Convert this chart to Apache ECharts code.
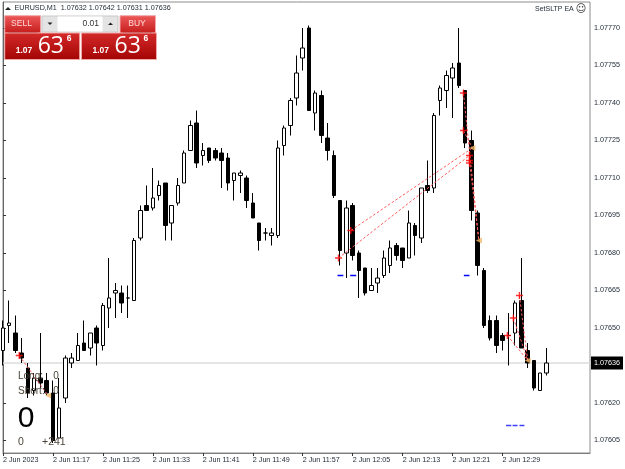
<!DOCTYPE html>
<html>
<head>
<meta charset="utf-8">
<title>EURUSD,M1</title>
<style>
  html, body { margin: 0; padding: 0; background: #fff; }
  #main { width: 625px; height: 469px; }
</style>
<script src="https://cdn.jsdelivr.net/npm/echarts@6/dist/echarts.min.js"></script>
</head>
<body>
<div id="main"></div>
<script>
// one minute candles, 2 Jun 2023 11:09 to 12:36
var opens = [1.07641,1.07651,1.07648,1.07640,1.07634,1.07625,1.07630,1.07629,1.07624,1.07606,
  1.07622,1.07636,1.07637,1.07644,1.07642,1.07650,1.07643,1.07658,1.07664,1.07664,
  1.07662,1.07661,1.07686,1.07699,1.07698,1.07703,1.07708,1.07692,1.07700,1.07708,
  1.07721,1.07732,1.07719,1.07722,1.07721,1.07720,1.07718,1.07709,1.07711,1.07710,
  1.07700,1.07692,1.07688,1.07687,1.07687,1.07723,1.07731,1.07742,1.07758,1.07770,
  1.07736,1.07743,1.07726,1.07719,1.07701,1.07680,1.07699,1.07680,1.07674,1.07665,
  1.07668,1.07671,1.07675,1.07683,1.07682,1.07678,1.07691,1.07686,1.07707,1.07706,
  1.07741,1.07745,1.07750,1.07756,1.07745,1.07725,1.07696,1.07673,1.07653,1.07653,
  1.07647,1.07647,1.07648,1.07661,1.07641,1.07637,1.07625,1.07632];
var closes = [1.07650,1.07652,1.07641,1.07638,1.07624,1.07630,1.07628,1.07624,1.07605,1.07618,
  1.07638,1.07638,1.07643,1.07641,1.07648,1.07644,1.07659,1.07662,1.07665,1.07660,
  1.07662,1.07685,1.07697,1.07697,1.07702,1.07707,1.07691,1.07699,1.07707,1.07720,
  1.07731,1.07716,1.07721,1.07717,1.07718,1.07717,1.07708,1.07712,1.07712,1.07701,
  1.07694,1.07685,1.07688,1.07688,1.07722,1.07730,1.07741,1.07752,1.07762,1.07737,
  1.07744,1.07727,1.07721,1.07703,1.07681,1.07698,1.07679,1.07673,1.07664,1.07667,
  1.07670,1.07678,1.07682,1.07679,1.07677,1.07692,1.07687,1.07706,1.07705,1.07735,
  1.07746,1.07751,1.07754,1.07747,1.07724,1.07697,1.07675,1.07651,1.07646,1.07643,
  1.07645,1.07647,1.07660,1.07642,1.07636,1.07626,1.07632,1.07636];
var lows = [1.07635,1.07644,1.07640,1.07636,1.07622,1.07623,1.07626,1.07623,1.07604,1.07606,
  1.07620,1.07634,1.07637,1.07641,1.07639,1.07635,1.07641,1.07650,1.07654,1.07656,
  1.07654,1.07661,1.07685,1.07697,1.07697,1.07701,1.07685,1.07685,1.07699,1.07708,
  1.07721,1.07714,1.07715,1.07716,1.07717,1.07706,1.07705,1.07701,1.07704,1.07698,
  1.07694,1.07681,1.07685,1.07683,1.07686,1.07719,1.07727,1.07739,1.07753,1.07737,
  1.07729,1.07724,1.07717,1.07702,1.07675,1.07670,1.07677,1.07662,1.07663,1.07665,
  1.07664,1.07670,1.07672,1.07677,1.07674,1.07678,1.07679,1.07684,1.07704,1.07704,
  1.07735,1.07738,1.07734,1.07746,1.07722,1.07693,1.07671,1.07650,1.07645,1.07640,
  1.07641,1.07635,1.07643,1.07642,1.07634,1.07625,1.07625,1.07631];
var highs = [1.07653,1.07661,1.07655,1.07646,1.07636,1.07632,1.07648,1.07632,1.07629,1.07630,
  1.07639,1.07640,1.07648,1.07653,1.07648,1.07651,1.07660,1.07678,1.07668,1.07667,
  1.07667,1.07686,1.07699,1.07707,1.07714,1.07709,1.07708,1.07699,1.07710,1.07721,
  1.07733,1.07737,1.07724,1.07722,1.07722,1.07722,1.07720,1.07712,1.07713,1.07711,
  1.07704,1.07692,1.07690,1.07690,1.07725,1.07731,1.07742,1.07759,1.07770,1.07771,
  1.07745,1.07745,1.07732,1.07721,1.07701,1.07701,1.07700,1.07681,1.07674,1.07674,
  1.07674,1.07681,1.07685,1.07684,1.07682,1.07697,1.07692,1.07706,1.07717,1.07736,
  1.07747,1.07753,1.07756,1.07770,1.07745,1.07729,1.07697,1.07674,1.07655,1.07655,
  1.07648,1.07656,1.07661,1.07678,1.07644,1.07637,1.07632,1.07642];

// x tick labels, one every eight minutes
var timeLabels = ["2 Jun 2023","2 Jun 11:17","2 Jun 11:25","2 Jun 11:33","2 Jun 11:41","2 Jun 11:49",
  "2 Jun 11:57","2 Jun 12:05","2 Jun 12:13","2 Jun 12:21","2 Jun 12:29"];
var priceTicks = [1.07605,1.07620,1.07650,1.07665,1.07680,1.07695,1.07710,1.07725,1.07740,1.07755,1.07770];
var lastPrice = 1.07636;

// trade overlays, x is in candle numbers
var tradeLines = [
  [[53.73,1.07678],[74.7,1.07719]],
  [[55.7,1.07689],[75.17,1.07722]],
  [[73.73,1.07744],[76.2,1.07685]],
  [[73.73,1.07729],[75.17,1.07722]],
  [[74.7,1.07717],[76.2,1.07685]],
  [[82.7,1.07663],[84.03,1.07637]],
  [[81.73,1.07654],[84.03,1.07637]],
  [[80.77,1.07647],[84.03,1.07637]],
  [[2.6,1.07639],[7.23,1.07623]]
];
var entryMarks = [[53.73,1.07678],[55.7,1.07689],[73.73,1.07744],[73.73,1.07729],[74.7,1.07719],
  [74.7,1.07717],[74.7,1.07716],[82.7,1.07663],[81.73,1.07654],[80.77,1.07647],[2.6,1.07639]];
var exitMarks = [[75.17,1.07722],[76.2,1.07685],[84.03,1.07637],[7.23,1.07623]];
var blueDashes = [
  [[53.57,1.07671],[54.5,1.07671]],
  [[55.6,1.07671],[56.56,1.07671]],
  [[73.8,1.07671],[74.7,1.07671]],
  [[80.56,1.07611],[81.4,1.07611]],
  [[81.6,1.07611],[82.4,1.07611]],
  [[82.7,1.07611],[83.5,1.07611]]
];

var TEXT_FONT = "Liberation Sans";
var TEXT_COLOR = "#1c2733";
var RED_HEAD = ["#ee5a5a", "#c41a1a"];
var RED_BODY = ["#d42a2a", "#a40404"];

var candleData = opens.map(function(o, i) {
  return [o, closes[i], lows[i], highs[i]];
});
// blank minutes after the last candle run to the axis
var categories = [];
for (var c = 0; c < 95; c++) {
  categories.push(c % 8 === 0 && c / 8 < timeLabels.length ? timeLabels[c / 8] : "");
}
function isLabelled(index) {
  return index % 8 === 0 && index <= 80;
}

var myChart = echarts.init(document.getElementById('main'));

function gradient(pair) {
  return new echarts.graphic.LinearGradient(0, 0, 0, 1, [
    { offset: 0, color: pair[0] },
    { offset: 1, color: pair[1] }
  ]);
}

function label(x, y, text, size, color, extra) {
  var style = {
    x: x, y: y, text: text,
    fill: color || TEXT_COLOR,
    font: (extra && extra.weight ? extra.weight + " " : "") + size + "px " + ((extra && extra.family) || TEXT_FONT),
    textAlign: (extra && extra.align) || "left",
    textVerticalAlign: "middle"
  };
  return { type: "text", z: 100, silent: true, style: style };
}

function box(x, y, w, h, fill, stroke) {
  return {
    type: "rect", z: 90, silent: true,
    shape: { x: x, y: y, width: w, height: h },
    style: { fill: fill, stroke: stroke || null, lineWidth: stroke ? 1 : 0 }
  };
}

function triangle(points, color) {
  return { type: "polygon", z: 100, silent: true, shape: { points: points }, style: { fill: color } };
}

function pricePanel(x) {
  var items = [];
  items.push(box(x, 33, 75, 26.5, gradient(RED_BODY), "#f0a8a8"));
  items.push(label(x + 11, 51, "1.07", 8.5, "#ffffff", { weight: "bold" }));
  items.push(label(x + 33, 46, "63", 23, "#ffffff", { family: "Open Sans" }));
  items.push(label(x + 62, 39, "6", 8.5, "#ffffff", { weight: "bold" }));
  return items;
}

var panelGraphics = [
  // header line
  triangle([[5, 10], [8, 7], [11, 10]], "#222222"),
  label(14.5, 8.5, "EURUSD,M1  1.07632 1.07642 1.07631 1.07636", 7.2),
  // sell and buy
  box(4.7, 15.7, 36, 17.5, gradient(RED_HEAD), "#f0a8a8"),
  label(21.5, 24, "SELL", 8.5, "#ffd8d8", { align: "center" }),
  box(8, 32.4, 29, 0.7, "#8c1414"),
  box(120, 15.7, 35.5, 17.5, gradient(RED_HEAD), "#f0a8a8"),
  label(137, 24, "BUY", 8.5, "#ffd8d8", { align: "center" }),
  box(123, 32.4, 29, 0.7, "#8c1414"),
  // lot stepper
  box(42, 16, 76, 16, "#e4e4e4", "#c8c8c8"),
  box(57.5, 16.5, 45, 15, "#ffffff"),
  label(99, 24, "0.01", 8.5, "#333333", { align: "right" }),
  triangle([[47.5, 22.5], [52.5, 22.5], [50, 25]], "#222222"),
  triangle([[108, 25], [113, 25], [110.5, 22.5]], "#222222")
].concat(pricePanel(4.7), pricePanel(81.5), [
  // EA name
  label(535, 9, "SetSLTP EA", 7),
  label(581, 9, "\u263A", 10.5, "#333333", { family: "DejaVu Sans", align: "center" }),
  // account box, bottom left
  label(18, 376, "Long:", 10, "#4a4438"),
  label(56, 376, "0", 10, "#4a4438", { align: "center" }),
  label(18, 391, "Short:", 10, "#4a4438"),
  label(56, 391, "0", 10, "#4a4438", { align: "center" }),
  label(26, 419, "0", 30, "#000000", { align: "center" }),
  label(21, 442, "0", 10.5, "#4a4438", { align: "center" }),
  label(42, 442, "+241", 10.5, "#4a4438")
]);

var series = [{
  // last price line and its box on the scale
  type: "line",
  xAxisIndex: 1,
  data: [[0, lastPrice], [94, lastPrice]],
  z: 1,
  silent: true,
  symbol: "none",
  lineStyle: { color: "#dcdcdc", width: 1.5 },
  endLabel: {
    show: true,
    distance: 1,
    formatter: lastPrice.toFixed(5),
    color: "#ffffff",
    backgroundColor: "#000000",
    fontFamily: TEXT_FONT,
    fontSize: 7.2,
    padding: [3, 3, 3, 3]
  }
}, {
  type: "candlestick",
  data: candleData,
  barWidth: 4,
  clip: false,
  z: 3,
  itemStyle: {
    color: "#ffffff",
    color0: "#000000",
    borderColor: "#000000",
    borderColor0: "#000000",
    borderColorDoji: "#000000",
    borderWidth: 1
  }
}];

tradeLines.forEach(function(pts) {
  series.push({
    type: "line",
    xAxisIndex: 1,
    data: pts,
    z: 4,
    silent: true,
    symbol: "none",
    lineStyle: { color: "#ff5c5c", width: 1, type: [2.5, 2] }
  });
});

blueDashes.forEach(function(pts, i) {
  series.push({
    type: "line",
    xAxisIndex: 1,
    data: pts,
    z: 4,
    silent: true,
    symbol: "none",
    lineStyle: { color: i < 3 ? "#0000ff" : "#4040ff", width: 1.5 }
  });
});

series.push({
  type: "scatter",
  xAxisIndex: 1,
  data: entryMarks,
  z: 5,
  silent: true,
  symbol: "path://M4 0h2v4h4v2H6v4H4V6H0V4h4z",
  symbolSize: 7,
  itemStyle: { color: "#ff0000" }
});
series.push({
  type: "scatter",
  xAxisIndex: 1,
  data: exitMarks,
  z: 5,
  silent: true,
  symbol: "triangle",
  symbolRotate: 90,
  symbolSize: 6,
  itemStyle: { color: "#f0b868" }
});

myChart.setOption({
  animation: false,
  backgroundColor: "#ffffff",
  textStyle: { fontFamily: TEXT_FONT },
  grid: {
    show: true,
    left: 2.5,
    right: 35,
    top: 2,
    bottom: 16,
    borderColor: "#8c8c8c",
    borderWidth: 1,
    backgroundColor: "#ffffff"
  },
  xAxis: [{
    type: "category",
    data: categories,
    boundaryGap: false,
    axisLine: { lineStyle: { color: "#7c7c7c", width: 1 } },
    axisTick: { length: 3, interval: isLabelled, lineStyle: { color: "#333333" } },
    axisLabel: {
      interval: isLabelled,
      align: "left",
      margin: 4,
      color: TEXT_COLOR,
      fontFamily: TEXT_FONT,
      fontSize: 7.2
    },
    splitLine: { show: false }
  }, {
    type: "value",
    min: 0,
    max: 94,
    show: false
  }],
  yAxis: {
    type: "value",
    position: "right",
    min: 1.076,
    max: 1.077804,
    scale: true,
    axisLine: { show: true, lineStyle: { color: "#666666", width: 1 } },
    axisTick: { show: true, length: 3, customValues: priceTicks, lineStyle: { color: "#333333" } },
    axisLabel: {
      customValues: priceTicks,
      margin: 4,
      color: TEXT_COLOR,
      fontFamily: TEXT_FONT,
      fontSize: 7.2,
      formatter: function(value) {
        return value.toFixed(5);
      }
    },
    splitLine: { show: false }
  },
  series: series,
  graphic: panelGraphics
});
</script>
</body>
</html>
